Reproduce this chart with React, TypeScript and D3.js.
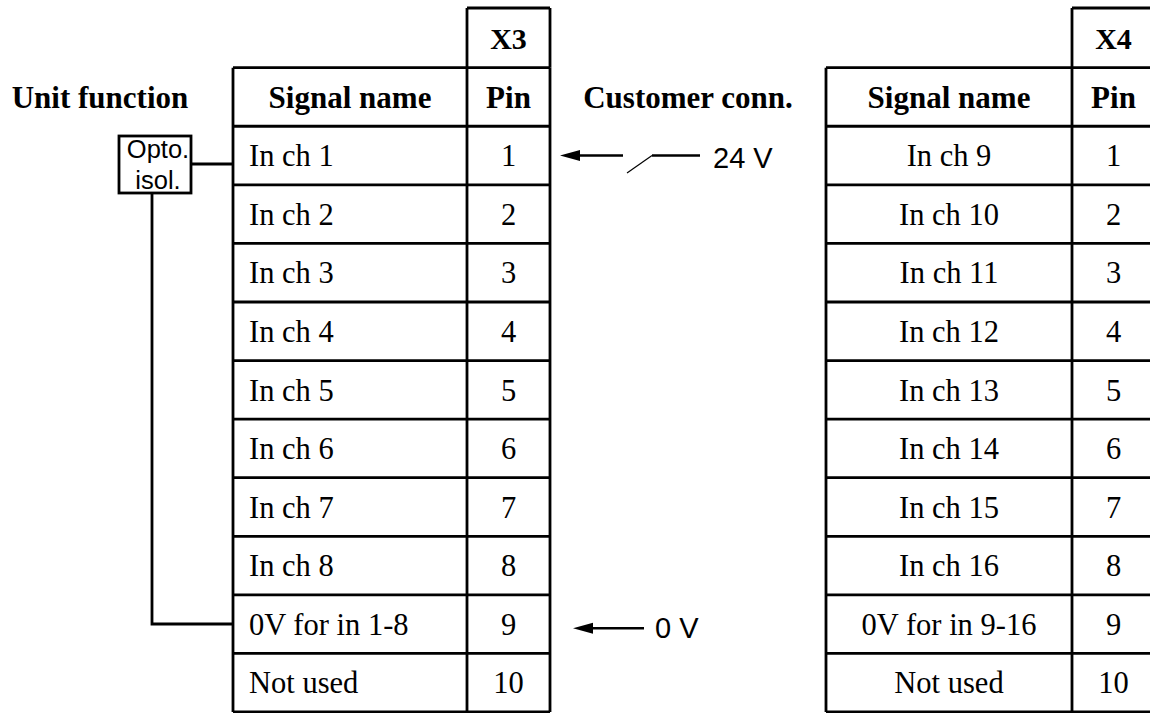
// App.tsx
import React from "react";
import * as d3 from "d3";

const pins = ["1", "2", "3", "4", "5", "6", "7", "8", "9", "10"];
const x3Signals = ["In ch 1", "In ch 2", "In ch 3", "In ch 4", "In ch 5", "In ch 6", "In ch 7", "In ch 8", "0V for in 1-8", "Not used"];
const x4Signals = ["In ch 9", "In ch 10", "In ch 11", "In ch 12", "In ch 13", "In ch 14", "In ch 15", "In ch 16", "0V for in 9-16", "Not used"];
const headers = ["Signal name", "Pin"];
const connectors = ["X3", "X4"];

const width = 1150, height = 713;
const serif = "'Liberation Serif', 'Times New Roman', serif";
const sans = "'Liberation Sans', Arial, sans-serif";
const stroke = 2.8;

// row 0 = header row, rows 1..10 = pins
const y = d3.scaleLinear().domain([0, pins.length + 1]).range([67.7, 712]);
const rowH = y(1) - y(0);

function Table({ left, sigW, pinW, conn, signals, centerSignals }) {
	const xs = d3.scaleOrdinal().domain(["sig", "pin", "end"]).range([left, left + sigW, left + sigW + pinW]);
	const sig = xs("sig"), pin = xs("pin"), end = xs("end");
	const lines = d3.range(0, pins.length + 2);
	return (
		<g>
			{/* connector box above pin column */}
			<line x1={pin} x2={pin} y1={8} y2={y(0)} stroke="#000" strokeWidth={stroke} />
			<line x1={pin} x2={end} y1={8} y2={8} stroke="#000" strokeWidth={stroke} />
			<line x1={end} x2={end} y1={8} y2={y(0)} stroke="#000" strokeWidth={stroke} />
			<text x={(pin + end) / 2} y={38} dy="0.35em" textAnchor="middle" fontFamily={serif} fontWeight="bold" fontSize={30}>{conn}</text>
			{lines.map((i) => (
				<line key={"h" + i} x1={sig} x2={end} y1={y(i)} y2={y(i)} stroke="#000" strokeWidth={stroke} />
			))}
			{[sig, pin, end].map((x, i) => (
				<line key={"v" + i} x1={x} x2={x} y1={y(0)} y2={y(pins.length + 1)} stroke="#000" strokeWidth={stroke} />
			))}
			<text x={(sig + pin) / 2} y={y(0) + rowH / 2} dy="0.35em" textAnchor="middle" fontFamily={serif} fontWeight="bold" fontSize={31}>{headers[0]}</text>
			<text x={(pin + end) / 2} y={y(0) + rowH / 2} dy="0.35em" textAnchor="middle" fontFamily={serif} fontWeight="bold" fontSize={31}>{headers[1]}</text>
			{signals.map((s, i) => (
				<text key={"s" + i} x={centerSignals ? (sig + pin) / 2 : sig + 16} y={y(i + 1) + rowH / 2} dy="0.35em"
					textAnchor={centerSignals ? "middle" : "start"} fontFamily={serif} fontSize={30.5}>{s}</text>
			))}
			{pins.map((p, i) => (
				<text key={"p" + i} x={(pin + end) / 2} y={y(i + 1) + rowH / 2} dy="0.35em" textAnchor="middle" fontFamily={serif} fontSize={30.5}>{p}</text>
			))}
		</g>
	);
}

function Arrow({ tip, end, yy }) {
	return (
		<g>
			<line x1={tip + 10} x2={end} y1={yy} y2={yy} stroke="#000" strokeWidth={2.5} />
			<path d={`M${tip},${yy} L${tip + 20},${yy - 5.5} L${tip + 20},${yy + 5.5} Z`} fill="#000" />
		</g>
	);
}

export default function App() {
	const row1 = y(1) + rowH / 2;
	const row9 = y(9) + rowH / 2;
	return (
		<svg width={width} height={height} style={{ display: "block", position: "absolute", left: 0, top: 0, background: "#fff" }}>
			<text x={100} y={y(0) + rowH / 2} dy="0.35em" textAnchor="middle" fontFamily={serif} fontWeight="bold" fontSize={31}>Unit function</text>
			<text x={688} y={y(0) + rowH / 2} dy="0.35em" textAnchor="middle" fontFamily={serif} fontWeight="bold" fontSize={31}>Customer conn.</text>

			<Table left={233} sigW={234} pinW={83} conn={connectors[0]} signals={x3Signals} centerSignals={false} />
			<Table left={826} sigW={246} pinW={83} conn={connectors[1]} signals={x4Signals} centerSignals={true} />

			{/* opto isolator */}
			<rect x={119} y={136} width={72} height={57} fill="none" stroke="#000" strokeWidth={stroke} />
			<text x={158} y={158} textAnchor="middle" fontFamily={sans} fontSize={25.5}>Opto.</text>
			<text x={158} y={189} textAnchor="middle" fontFamily={sans} fontSize={25.5}>isol.</text>
			<line x1={191} x2={233} y1={164} y2={164} stroke="#000" strokeWidth={stroke} />
			<polyline points={`152,193 152,624 233,624`} fill="none" stroke="#000" strokeWidth={stroke} />

			{/* customer side */}
			<Arrow tip={560} end={623} yy={row1} />
			<line x1={627} y1={173} x2={652} y2={row1} stroke="#000" strokeWidth={1.2} />
			<line x1={652} x2={700} y1={row1} y2={row1} stroke="#000" strokeWidth={2.5} />
			<text x={713} y={168} fontFamily={sans} fontSize={29}>24 V</text>

			<Arrow tip={573} end={644} yy={row9 + 4} />
			<text x={655} y={row9 + 14} fontFamily={sans} fontSize={29}>0 V</text>
		</svg>
	);
}
